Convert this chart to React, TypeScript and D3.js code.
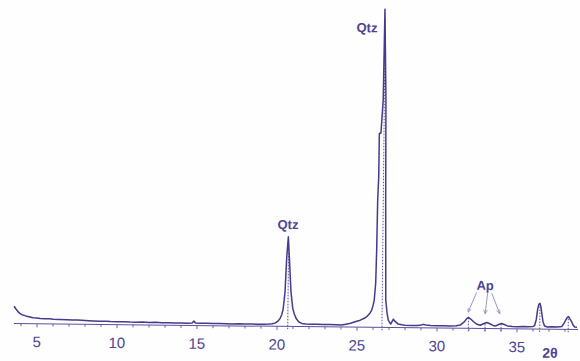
import React from 'react';
import * as d3 from 'd3';

const twoTheta = [
  3.56, 3.65, 3.75, 3.85, 3.94, 4.05, 4.2, 4.35, 4.56, 4.75, 4.98, 5.2, 5.5, 5.8, 6.0, 6.4, 6.86, 7.2, 7.5, 7.8,
  8.0, 8.5, 8.94, 9.3, 9.6, 10.0, 10.4, 10.8, 11.2, 11.6, 12.0, 12.4, 12.8, 13.2, 13.6, 14.0, 14.4, 14.7, 14.8, 14.9,
  15.2, 15.6, 16.0, 16.4, 16.8, 17.2, 17.6, 18.0, 18.4, 18.8, 19.2, 19.5, 19.7, 19.88, 20.05, 20.19, 20.3, 20.38, 20.48, 20.56,
  20.65, 20.73, 20.85, 20.97, 21.08, 21.19, 21.35, 21.54, 21.8, 22.1, 22.5, 22.9, 23.3, 23.7, 24.04, 24.3, 24.6, 24.88, 25.2, 25.45,
  25.6, 25.8, 25.91, 26.0, 26.06, 26.14, 26.18, 26.21, 26.26, 26.27, 26.37, 26.49, 26.54, 26.66, 26.71, 26.78, 26.87, 26.95, 27.1, 27.2,
  27.27, 27.36, 27.56, 27.8, 28.0, 28.4, 28.8, 29.0, 29.15, 29.3, 29.6, 30.0, 30.4, 30.8, 31.2, 31.45, 31.7, 31.85, 31.96, 32.1,
  32.3, 32.5, 32.7, 32.9, 33.1, 33.3, 33.5, 33.65, 33.85, 34.04, 34.2, 34.4, 34.7, 35.0, 35.4, 35.7, 36.0, 36.1, 36.2, 36.28,
  36.36, 36.42, 36.48, 36.55, 36.62, 36.72, 36.9, 37.2, 37.5, 37.8, 37.95, 38.05, 38.15, 38.22, 38.3, 38.4, 38.5, 38.6, 38.75,
];
const counts = [
  54, 47, 41, 35, 31, 28, 26, 23, 21, 19, 18, 17, 16, 16, 15, 14.5, 14, 13.5, 13, 12.5,
  12, 11, 10, 10.5, 9.5, 9, 9.5, 8.5, 8.5, 9, 8, 8.5, 7.5, 8, 7, 7.5, 7, 8, 14, 8,
  7, 7.5, 6.5, 7, 6.5, 6, 7, 6, 6.5, 6, 6.5, 7, 8, 10, 16, 25, 38, 57, 108, 212,
  279, 212, 108, 57, 38, 25, 15, 10, 8.5, 8, 7.5, 7, 7.5, 7, 6.5, 9, 12, 17, 22, 28,
  33, 44, 54, 70, 85, 138, 241, 396, 468, 603, 605, 708, 990, 708, 400, 86, 45, 23, 11, 20,
  26, 20, 11.5, 9, 8, 7, 7.5, 9, 11, 9, 7.5, 7, 7.5, 7, 8, 10, 20, 30, 34, 29,
  20, 13, 10, 15, 19, 15, 10, 8, 13, 16, 13, 9, 7, 7, 7.5, 7, 8, 11, 30, 62,
  78, 80, 70, 46, 24, 10, 7, 7.5, 7, 9, 20, 30, 38, 40, 33, 25, 14, 8, 7,
];

// reference (dotted) lines: position and height
const refPos = [20.67, 26.56, 31.96, 33.0, 34.0, 36.42, 38.2];
const refTop = [270, 960, 32, 18, 15, 80, 36];

const majorTicks = [5, 10, 15, 20, 25, 30, 35];
const minorTicks = d3.range(4, 39);

const labelText = ['Qtz', 'Qtz', 'Ap'];
const labelPos = [20.62, 25.43, 32.98];
const labelLevel = [303, 918, 120];

const arrowFrom = [[32.45, 112], [33.14, 110], [33.4, 110]];
const arrowTo = [[31.95, 52], [33.0, 47], [33.9, 48]];

const LINE = '#463a8c';
const AXIS = '#5a52a0';
const TEXT = '#4d4394';

export default function App() {
  const x = d3.scaleLinear().domain([5, 35]).range([37, 517]);
  const y = d3.scaleLinear().domain([0, 1000]).range([326.5, 5]);
  const pts: [number, number][] = twoTheta.map((t, i) => [t, counts[i]]);
  const line = d3.line<[number, number]>().x(d => x(d[0])).y(d => y(d[1]));
  const y0 = y(0);
  const x0 = x(twoTheta[0]);
  const x1 = x(twoTheta[twoTheta.length - 1]) + 1;

  return (
    <svg width={580} height={361} style={{ position: 'absolute', left: 0, top: 0, background: '#fefefe' }}>
      <defs>
        <marker id="ah" viewBox="0 0 6 6" refX="5" refY="3" markerWidth="5" markerHeight="5" orient="auto">
          <path d="M0,0.5 L6,3 L0,5.5" fill="none" stroke="#8f8bbd" strokeWidth={1} />
        </marker>
      </defs>
      <g transform="rotate(0.6, 290, 326.5)">
        {/* axis */}
        <line x1={x0} x2={x1} y1={y0} y2={y0} stroke={AXIS} strokeWidth={1} />
        {minorTicks.map(t => (
          <line key={t} x1={x(t)} x2={x(t)} y1={y0} y2={y0 + (t % 5 === 0 ? 3.5 : 2.5)} stroke={AXIS} strokeWidth={0.9} />
        ))}
        {majorTicks.map(t => (
          <text key={t} x={x(t)} y={y0 + 23.3} textAnchor="middle" fontFamily="Liberation Sans, Arial, sans-serif"
            fontSize={15} fill={TEXT}>{t}</text>
        ))}
        <text x={x(37.08)} y={y0 + 28.5} textAnchor="middle" fontFamily="Liberation Sans, Arial, sans-serif"
          fontSize={14} fontWeight="bold" fill={TEXT}>2θ</text>

        {/* reference lines */}
        {refPos.map((p, i) => (
          <line key={i} x1={x(p)} x2={x(p)} y1={y(-9)} y2={y(refTop[i])} stroke={AXIS} strokeWidth={1}
            strokeDasharray="1.6,1.4" />
        ))}

        {/* pattern */}
        <path d={line(pts) || ''} fill="none" stroke={LINE} strokeWidth={1.5} strokeLinejoin="round" />

        {/* labels */}
        {labelText.map((s, i) => (
          <text key={i} x={x(labelPos[i])} y={y(labelLevel[i])} textAnchor="middle"
            fontFamily="Liberation Sans, Arial, sans-serif" fontSize={13} fontWeight="bold" fill={TEXT}>{s}</text>
        ))}
        {arrowFrom.map((f, i) => (
          <line key={i} x1={x(f[0])} y1={y(f[1])} x2={x(arrowTo[i][0])} y2={y(arrowTo[i][1])}
            stroke="#8f8bbd" strokeWidth={0.9} markerEnd="url(#ah)" />
        ))}
      </g>
    </svg>
  );
}
